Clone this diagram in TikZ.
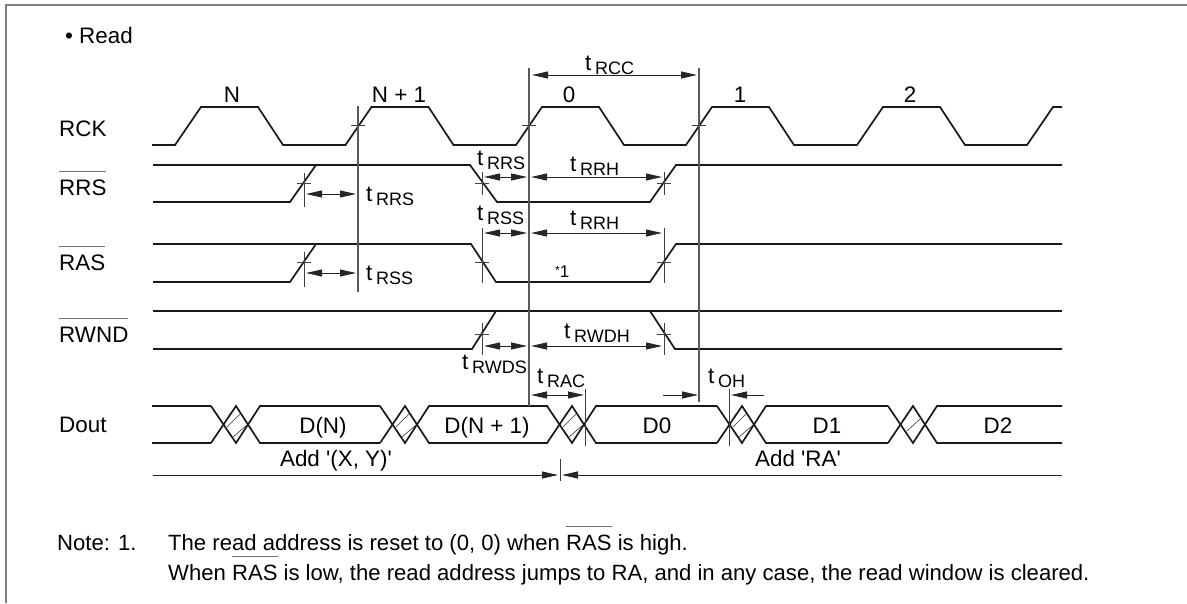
\documentclass[tikz,border=0pt]{standalone}
\usepackage{fontspec}
\setmainfont{Liberation Sans}
\usetikzlibrary{arrows.meta}
\newcommand{\tsub}[1]{t\,\raisebox{-4pt}{\fontsize{18}{20}\selectfont #1}}
\newcommand{\novr}[1]{\setbox0\hbox{#1}\rlap{\raisebox{23pt}{\textcolor{black!55}{\rule{\wd0}{1.2pt}}}}\box0}

\begin{document}
\begin{tikzpicture}[font=\fontsize{22.4}{26}\selectfont,>={Stealth[length=16pt,width=7pt,inset=0pt]},x=1pt,y=-1pt,
  wave/.style={line width=1.7pt,black!90,line join=miter},
  guide/.style={line width=1.3pt,black!65},
  tk/.style={line width=0.8pt,black!75},
  dm/.style={line width=0.9pt,black!85},
  hatch/.style={line width=0.6pt,black!80},
  lb/.style={anchor=base west,inner sep=0},
  cb/.style={anchor=base,inner sep=0},
  nt/.style={lb,font=\fontsize{22.1}{26}\selectfont}]
  \useasboundingbox (0,0) rectangle (1187,603);
  % cadre
  \draw[line width=2pt,black!50] (6,603) -- (6,5) -- (1187,5);
  \node[lb] (title) at (65,43) {\textbullet\ Read};
  % noms des signaux
  \node[lb] (rck) at (59,136) {RCK};
  \node[lb] (rrs) at (59,195) {\novr{RRS}};
  \node[lb] (ras) at (59,270) {\novr{RAS}};
  \node[lb] (rwnd) at (59,342) {\novr{RWND}};
  \node[lb] (dout) at (59,432) {Dout};
  % horloge
  \draw[wave] (152,145) -- (175,145)
    \foreach \x in {175,345.5,516,686,857}{ -- (\x,145) -- (\x+26,107) -- (\x+83,107) -- (\x+108,145)}
    -- (1027,145) -- (1053,107) -- (1062,107);
  \foreach \n/\xx/\lab in {cn/232/N,cna/399/N + 1,c0/569/0,c1/740/1,c2/910/2}{
    \node[cb] (\n) at (\xx,102) {\lab};
  }
  % RRS, RAS, RWND
  \draw[wave] (153,202) -- (290,202) -- (316,165);
  \draw[wave] (153,165) -- (470,165) -- (497,202) -- (650,202) -- (676,165) -- (1062,165);
  \draw[wave] (153,282) -- (290,282) -- (316,244);
  \draw[wave] (153,244) -- (471,244) -- (496,282) -- (650,282) -- (676,244) -- (1062,244);
  \draw[wave] (153,311) -- (1062,311);
  \draw[wave] (153,349) -- (472,349) -- (496,311);
  \draw[wave] (650,311) -- (675,349) -- (1062,349);
  % sortie
  \draw[wave] (152,406) -- (211,406);
  \draw[wave] (152,443) -- (211,443);
  \foreach \c/\nxt in {236/380,405/548,572/717,742/888,913/1062}{
    \draw[wave] (\c-25,406) -- (\c,443) -- (\c+24,406) -- (\nxt,406);
    \draw[wave] (\c-25,443) -- (\c,406) -- (\c+24,443) -- (\nxt,443);
  }
  \foreach \c in {236,405,572,742}{
    \draw[hatch] (\c-9,427) -- (\c+4,414);
    \draw[hatch] (\c-3,437) -- (\c+11,425);
  }
  \draw[hatch] (907,431) -- (920,419);
  \foreach \n/\xx/\lab in {dn/323/D(N),dna/487/D(N + 1),d0/657/D0,d1/827/D1,d2/998/D2}{
    \node[cb] (\n) at (\xx,433) {\lab};
  }
  % reperes
  \draw[guide] (358,106) -- (358,292);
  \draw[guide] (529,68) -- (529,406);
  \draw[guide] (699,68) -- (699,402);
  \foreach \x in {358,529,699}{
    \draw[tk] (\x-7,125) -- (\x+7,125);
  }
  \draw[tk] (304,173) -- (304,207);
  \draw[tk] (304,252) -- (304,287);
  \foreach \x in {482,664}{
    \draw[tk] (\x,172) -- (\x,195);
    \draw[tk] (\x,228) -- (\x,283);
    \draw[tk] (\x,323) -- (\x,355);
    \foreach \y in {183,262,334}{
      \draw[tk] (\x-7,\y) -- (\x+7,\y);
    }
  }
  \foreach \y in {183,262}{
    \draw[tk] (297,\y) -- (311,\y);
  }
  \draw[tk] (585,389) -- (585,446);
  \draw[tk] (729,389) -- (729,446);
  \draw[tk] (560,459) -- (560,481);
  % cotes
  \draw[dm,<->] (532,75) -- (697,75);
  \foreach \yy in {194,273}{
    \draw[dm,<->] (306,\yy) -- (356,\yy);
  }
  \foreach \yy in {177,233,346}{
    \draw[dm,<->] (484,\yy) -- (527,\yy);
    \draw[dm,<->] (531,\yy) -- (662,\yy);
  }
  \draw[dm,<->] (531,395) -- (584,395);
  \draw[dm,->] (663,395) -- (698,395);
  \draw[dm,->] (764,395) -- (731,395);
  \draw[dm,->] (153,475) -- (558,475);
  \draw[dm,->] (1062,475) -- (562,475);
  % temps
  \node[lb] (trcc) at (585,70) {\tsub{RCC}};
  \node[lb] (trrsa) at (366,201) {\tsub{RRS}};
  \node[lb] (trrsb) at (477,165) {\tsub{RRS}};
  \node[lb] (trrha) at (570,171) {\tsub{RRH}};
  \node[lb] (trssa) at (366,280) {\tsub{RSS}};
  \node[lb] (trssb) at (477,220) {\tsub{RSS}};
  \node[lb] (trrhb) at (570,225) {\tsub{RRH}};
  \node[lb] (trwdh) at (564,338) {\tsub{RWDH}};
  \node[lb] (trwds) at (462,369) {\tsub{RWDS}};
  \node[lb] (trac) at (537,383) {\tsub{RAC}};
  \node[lb] (toh) at (708,383) {\tsub{OH}};
  \node[lb,font=\fontsize{17}{18}\selectfont] (star) at (555,277) {\raisebox{3pt}{\fontsize{12}{12}\selectfont *}1};
  % adresses
  \node[cb] (addxy) at (336,466) {Add \textquotesingle(X, Y)\textquotesingle};
  \node[cb] (addra) at (798,466) {Add \textquotesingle RA\textquotesingle};
  % note
  \node[nt] (note) at (57,550) {Note: 1.};
  \node[nt] (noteb) at (168,550) {The read address is reset to (0, 0) when \novr{RAS}\ is high.};
  \node[nt] (notec) at (168,580) {When \novr{RAS}\ is low, the read address jumps to RA, and in any case, the read window is cleared.};
\end{tikzpicture}
\end{document}
